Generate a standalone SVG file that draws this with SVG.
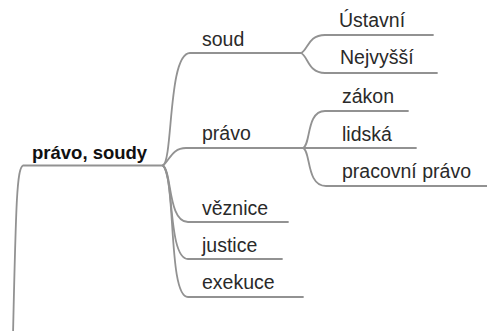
<svg xmlns="http://www.w3.org/2000/svg" width="487" height="331" viewBox="0 0 487 331">
<style>
.c{fill:none;stroke:#929292;stroke-width:1.8;stroke-linecap:round}
.t{font-family:"Liberation Sans",Arial,sans-serif;font-size:19.5px;fill:#2a2a2a}
.r{font-family:"Liberation Sans",Arial,sans-serif;font-size:18.5px;font-weight:bold;fill:#111}
</style>
<rect width="487" height="331" fill="#fff"/>
<g id="connectors">
<path class="c" d="M163,165.5 H23 C17,168 16,200 13,335"/>
<path class="c" d="M163,165.5 C173,160 168,53 190,53 H301"/>
<path class="c" d="M163,165.5 C170,160 172,148 186,148 H303"/>
<path class="c" d="M163,165.5 C172,172 168,222 188,222 H288"/>
<path class="c" d="M163,165.5 C174,175 168,259 188,259 H282"/>
<path class="c" d="M163,165.5 C176,180 168,297 188,297 H303"/>
<path class="c" d="M301,53 C308,50 308,35 325,35 H433"/>
<path class="c" d="M301,53 C308,56 308,73 325,73 H437"/>
<path class="c" d="M303,148 C311,145 306,111 325,111 H408"/>
<path class="c" d="M303,148 H416"/>
<path class="c" d="M303,148 C311,151 306,186 326,186 H487"/>
</g>
<g id="root"><text class="r" x="32" y="159">právo, soudy</text></g>
<g id="soud"><text class="t" x="202" y="46">soud</text></g>
<g id="pravo"><text class="t" x="202" y="140">právo</text></g>
<g id="veznice"><text class="t" x="202" y="215">věznice</text></g>
<g id="justice"><text class="t" x="202" y="252">justice</text></g>
<g id="exekuce"><text class="t" x="202" y="289">exekuce</text></g>
<g id="ustavni"><text class="t" x="339" y="27">Ústavní</text></g>
<g id="nejvyssi"><text class="t" x="340" y="64">Nejvyšší</text></g>
<g id="zakon"><text class="t" x="342" y="103">zákon</text></g>
<g id="lidska"><text class="t" x="342" y="141">lidská</text></g>
<g id="pracovni"><text class="t" x="342" y="178">pracovní právo</text></g>
</svg>
